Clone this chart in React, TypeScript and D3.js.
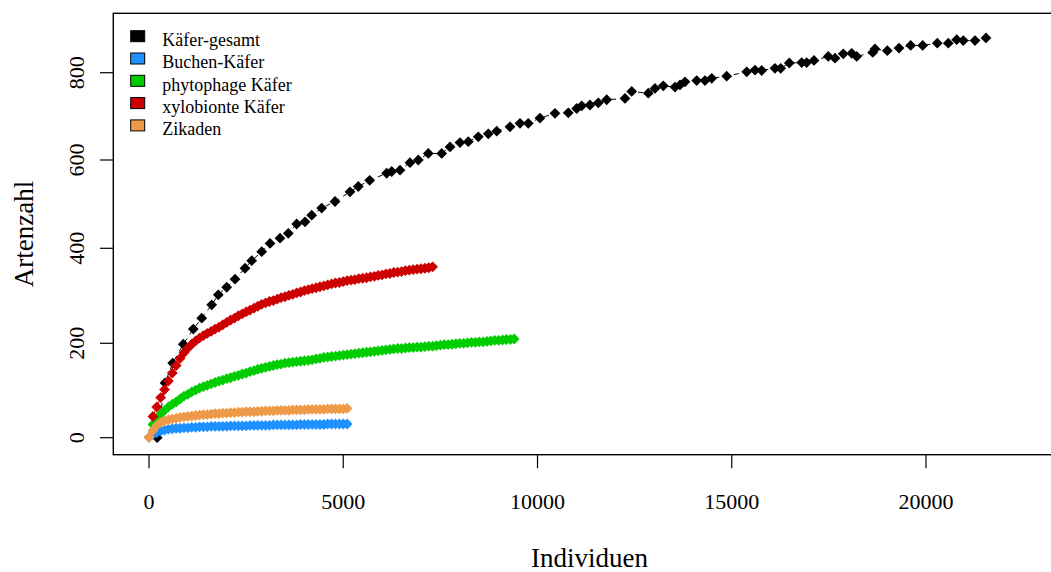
import React from "react";
import * as d3 from "d3";

// ---- data ----
const legendLabels = ["Käfer-gesamt", "Buchen-Käfer", "phytophage Käfer", "xylobionte Käfer", "Zikaden"];
const seriesColors = ["#000000", "#1E90FF", "#00CD00", "#CD0000", "#EE9A49"];

const xTicks = [0, 5000, 10000, 15000, 20000];
const yTicks = [0, 200, 400, 600, 800];

// Käfer-gesamt (irregular sampling)
const totalX = [210, 412, 610, 883, 1140, 1357, 1614, 1784, 2000, 2214, 2471, 2644, 2901, 3115, 3372, 3586, 3801, 4016, 4188, 4445, 4788, 5174, 5387, 5680, 6118, 6247, 6461, 6718, 6932, 7189, 7534, 7748, 8005, 8219, 8476, 8734, 8950, 9292, 9550, 9763, 10064, 10450, 10793, 11009, 11138, 11351, 11565, 11781, 12252, 12425, 12852, 13024, 13238, 13539, 13668, 13797, 14098, 14311, 14484, 14870, 15385, 15598, 15771, 16113, 16260, 16481, 16800, 16929, 17117, 17485, 17658, 17871, 18088, 18216, 18628, 18687, 19004, 19305, 19606, 19915, 20291, 20574, 20790, 20960, 21261, 21544];
const totalY = [0, 116, 158, 198, 230, 253, 281, 302, 318, 335, 358, 374, 393, 411, 423, 434, 455, 460, 475, 491, 506, 528, 540, 554, 570, 574, 577, 594, 600, 615, 615, 630, 640, 642, 653, 660, 666, 676, 684, 684, 696, 707, 708, 718, 724, 726, 731, 738, 741, 757, 753, 764, 770, 767, 772, 779, 782, 782, 787, 792, 802, 806, 805, 810, 810, 822, 823, 823, 828, 837, 833, 843, 844, 837, 846, 854, 850, 856, 862, 862, 867, 867, 875, 873, 873, 879];

// rarefaction series: first sample size and step (individuals), species values
const buchenStart = 0, buchenStep = 100;
const buchenY = [1, 7, 11, 14, 16, 18, 19, 20, 20, 21, 21, 22, 22, 23, 23, 23, 24, 24, 24, 24, 24, 25, 25, 25, 25, 25, 26, 26, 26, 26, 26, 26, 27, 27, 27, 27, 27, 27, 27, 28, 28, 28, 28, 28, 28, 28, 29, 29, 29, 29, 29, 29];

const phytoStart = 100, phytoStep = 100;
const phytoY = [28, 40, 50, 58, 65, 71, 76, 82, 88, 92, 97, 101, 105, 108, 111, 114, 117, 120, 122, 125, 127, 130, 132, 135, 137, 140, 142, 145, 147, 149, 151, 153, 155, 156, 158, 159, 160, 161, 162, 163, 164, 165, 167, 168, 170, 171, 172, 173, 174, 175, 176, 177, 178, 179, 180, 181, 182, 183, 184, 185, 186, 187, 188, 189, 189, 190, 191, 191, 192, 192, 193, 194, 194, 195, 196, 197, 197, 198, 199, 200, 200, 201, 202, 202, 203, 203, 204, 205, 206, 206, 207, 208, 208, 209];

const xyloStart = 100, xyloStep = 100;
const xyloY = [45, 65, 85, 102, 120, 137, 153, 168, 180, 190, 198, 205, 211, 216, 221, 225, 230, 234, 239, 244, 249, 253, 258, 262, 266, 270, 274, 278, 282, 285, 288, 290, 293, 296, 298, 301, 303, 306, 308, 311, 313, 315, 317, 319, 321, 323, 325, 327, 328, 330, 332, 333, 334, 336, 337, 338, 340, 341, 343, 344, 346, 347, 349, 350, 351, 353, 354, 355, 356, 357, 358, 359, 361];

const zikStart = 0, zikStep = 100;
const zikY = [1, 15, 26, 32, 36, 38, 40, 41, 43, 44, 45, 46, 47, 48, 49, 49, 50, 51, 51, 52, 52, 53, 53, 54, 54, 55, 55, 55, 56, 56, 57, 57, 57, 58, 58, 58, 58, 59, 59, 59, 59, 60, 60, 60, 60, 60, 61, 61, 61, 61, 61, 62];

const W = 1051, H = 572;
const box = { left: 113.3, top: 13.3, right: 1066, bottom: 454.7 };

const xScale = d3.scaleLinear().domain([0, 20000]).range([149, 926]);
const yScale = d3.scaleLinear()
  .domain([-36, 0, 200, 400, 600, 800, 935])
  .range([454.7, 437.7, 343.3, 248.3, 160, 72.7, 13.3]);

const FONT = "'Liberation Serif', 'Times New Roman', Times, serif";

function diamond(r: number) {
  return `M0,${-r}L${r},0L0,${r}L${-r},0Z`;
}

type Pt = [number, number];

function gridSeries(start: number, step: number, ys: number[]): Pt[] {
  return ys.map((y, i) => [start + i * step, y] as Pt);
}

export default function App() {
  const total: Pt[] = totalX.map((x, i) => [x, totalY[i]] as Pt);
  const series: { pts: Pt[]; color: string; dashed: boolean }[] = [
    { pts: total, color: seriesColors[0], dashed: true },
    { pts: gridSeries(buchenStart, buchenStep, buchenY), color: seriesColors[1], dashed: false },
    { pts: gridSeries(phytoStart, phytoStep, phytoY), color: seriesColors[2], dashed: false },
    { pts: gridSeries(xyloStart, xyloStep, xyloY), color: seriesColors[3], dashed: false },
    { pts: gridSeries(zikStart, zikStep, zikY), color: seriesColors[4], dashed: false },
  ];
  const line = d3.line<Pt>().x((d) => xScale(d[0])).y((d) => yScale(d[1]));
  const r = 5.4;

  return (
    <svg
      width={W}
      height={H}
      style={{ position: "absolute", left: 0, top: 0, background: "#fff", overflow: "hidden" }}
      fontFamily={FONT}
    >
      <rect x={0} y={0} width={W} height={H} fill="#fff" />
      <defs>
        <clipPath id="plotclip">
          <rect x={box.left} y={box.top} width={box.right - box.left} height={box.bottom - box.top} />
        </clipPath>
      </defs>

      <g clipPath="url(#plotclip)">
        {series.map((s, si) => (
          <g key={si}>
            <path
              d={line(s.pts) || ""}
              fill="none"
              stroke={s.color}
              strokeWidth={1}
              strokeDasharray={s.dashed ? "5,5" : undefined}
            />
            {s.pts.map((p, i) => (
              <path
                key={i}
                d={diamond(r)}
                transform={`translate(${xScale(p[0])},${yScale(p[1])})`}
                fill={s.color}
              />
            ))}
          </g>
        ))}
      </g>

      {/* box */}
      <rect
        x={box.left}
        y={box.top}
        width={box.right - box.left}
        height={box.bottom - box.top}
        fill="none"
        stroke="#000"
        strokeWidth={1.4}
      />

      {/* x axis */}
      {xTicks.map((t) => (
        <g key={t}>
          <line x1={xScale(t)} x2={xScale(t)} y1={box.bottom} y2={box.bottom + 13.6} stroke="#000" strokeWidth={1.2} />
          <text x={xScale(t)} y={509} textAnchor="middle" fontSize={22}>
            {t}
          </text>
        </g>
      ))}

      {/* y axis */}
      {yTicks.map((t) => (
        <g key={t}>
          <line x1={box.left} x2={box.left - 13.3} y1={yScale(t)} y2={yScale(t)} stroke="#000" strokeWidth={1.2} />
          <text
            transform={`translate(84,${yScale(t)}) rotate(-90)`}
            textAnchor="middle"
            fontSize={22}
          >
            {t}
          </text>
        </g>
      ))}

      {/* axis titles */}
      <text x={589.5} y={567} textAnchor="middle" fontSize={27}>
        Individuen
      </text>
      <text transform={`translate(33,234) rotate(-90)`} textAnchor="middle" fontSize={27}>
        Artenzahl
      </text>

      {/* legend */}
      {legendLabels.map((lab, i) => {
        const base = 46 + i * 22.3;
        return (
          <g key={lab}>
            <rect x={130.7} y={base - 15.3} width={14} height={11} fill={seriesColors[i]} stroke="#000" strokeWidth={1} />
            <text x={162.3} y={base} fontSize={18}>
              {lab}
            </text>
          </g>
        );
      })}
    </svg>
  );
}
